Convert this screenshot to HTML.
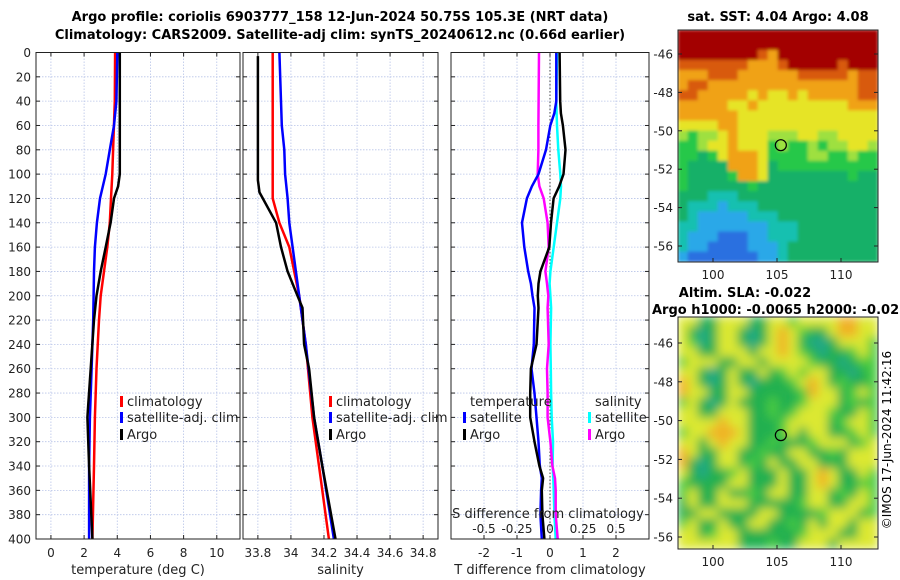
<!DOCTYPE html>
<html><head><meta charset="utf-8"><style>
html,body{margin:0;padding:0;background:#fff;}
svg{display:block;font-family:"DejaVu Sans","Liberation Sans",sans-serif;}
</style></head><body>
<svg id="c" width="900" height="580" xmlns="http://www.w3.org/2000/svg">
<defs>
<filter id="blur" x="0" y="0" width="100%" height="100%"><feGaussianBlur stdDeviation="5"/></filter>
<filter id="blur2" x="0" y="0" width="100%" height="100%"><feGaussianBlur stdDeviation="1.5"/></filter>
<clipPath id="clipTop"><rect x="678" y="30" width="200" height="232"/></clipPath>
<clipPath id="clipBot"><rect x="678" y="317" width="200" height="232"/></clipPath>
</defs>
<text x="340" y="21" text-anchor="middle" font-weight="bold" font-size="13">Argo profile: coriolis 6903777_158 12-Jun-2024 50.75S 105.3E (NRT data)</text>
<text x="340" y="39" text-anchor="middle" font-weight="bold" font-size="13">Climatology: CARS2009. Satellite-adj clim: synTS_20240612.nc (0.66d earlier)</text>
<text x="778" y="21" text-anchor="middle" font-weight="bold" font-size="13">sat. SST: 4.04 Argo: 4.08</text>
<text x="745" y="297" text-anchor="middle" font-weight="bold" font-size="13">Altim. SLA: -0.022</text>
<text x="652" y="314" font-weight="bold" font-size="13">Argo h1000: -0.0065 h2000: -0.02</text>
<text transform="translate(891,440) rotate(-90)" text-anchor="middle" font-size="12">©IMOS 17-Jun-2024 11:42:16</text>
<g id="g"></g>
</svg>
<script>
// ---- data ----
const depthTicks=[0,20,40,60,80,100,120,140,160,180,200,220,240,260,280,300,320,340,360,380,400];
const tTicks=[0,2,4,6,8,10];
const sTicks=[33.8,34,34.2,34.4,34.6,34.8];
const dTTicks=[-2,-1,0,1,2];
const dSTicks=[-0.5,-0.25,0,0.25,0.5];
const dSTickLabels=["-0.5","-0.25","0","0.25","0.5"];

const climDepth=[0,40,80,100,120,140,160,180,200,220,260,300,340,400];
const climTemp=[3.87,3.85,3.75,3.7,3.62,3.55,3.4,3.2,3.0,2.9,2.75,2.65,2.6,2.5];
const satDepth=[0,40,60,80,100,120,140,160,180,220,260,300,340,400];
const satTemp=[4.0,3.95,3.8,3.55,3.3,2.96,2.77,2.65,2.6,2.55,2.45,2.35,2.3,2.3];
const argoDepth=[0,60,100,110,120,140,160,180,200,220,260,290,300,340,400];
const argoTemp=[4.15,4.15,4.15,4.05,3.8,3.6,3.3,3.0,2.75,2.6,2.4,2.25,2.2,2.3,2.5];

const climSalDepth=[0,110,120,140,160,180,200,240,300,340,400];
const climSal=[33.89,33.89,33.89,33.93,33.99,34.02,34.05,34.09,34.13,34.17,34.23];
const satSalDepth=[0,40,60,80,100,120,140,160,180,200,240,300,340,400];
const satSal=[33.93,33.94,33.945,33.96,33.965,33.98,33.99,34.01,34.03,34.05,34.09,34.14,34.19,34.26];
const argoSalDepth=[3,105,115,120,140,160,180,200,210,240,260,300,340,400];
const argoSal=[33.80,33.80,33.81,33.83,33.91,33.94,33.98,34.04,34.07,34.08,34.11,34.14,34.19,34.27];

const dDepth=[0,40,50,60,80,100,110,120,140,160,180,190,200,210,240,260,280,300,320,340,350,360,380,400];
const dTSat=[0.19,0.19,0.13,0.01,-0.12,-0.35,-0.55,-0.7,-0.85,-0.78,-0.66,-0.58,-0.53,-0.47,-0.49,-0.56,-0.47,-0.41,-0.35,-0.31,-0.25,-0.27,-0.29,-0.25];
const dTArgo=[0.29,0.31,0.33,0.39,0.47,0.41,0.28,0.11,0.03,-0.02,-0.29,-0.35,-0.37,-0.35,-0.41,-0.58,-0.6,-0.6,-0.47,-0.32,-0.21,-0.25,-0.23,-0.17];
const dSSat=[0.053,0.048,0.05,0.053,0.063,0.078,0.083,0.078,0.053,0.028,0.003,-0.003,0.003,0.008,0.003,0.006,0.008,0.013,0.023,0.02,0.025,0.028,0.033,0.043];
const dSArgo=[-0.083,-0.086,-0.087,-0.088,-0.088,-0.093,-0.08,-0.048,-0.018,-0.01,-0.035,-0.023,-0.013,-0.018,-0.01,-0.023,-0.018,-0.018,0.003,0.018,0.038,0.043,0.043,0.058];

const latTicks=[-46,-48,-50,-52,-54,-56];
const lonTicks=[100,105,110];
const argoLon=105.3, argoLat=-50.75;
const sstGrid=[
"RRRRRRRRRRRRRRRRRRRR","RRRRRRRRRRRRRRRRRRRR","RRRRRRRRroRRRRRRRRRR","rrrrrrrooorRRRRRrRRR",
"ooorrroooooorrrrrorr","orrooooooooooooooorr","rroooooyoyyoyooooorr","oooooyyoyyyyyyyyyooo",
"ooooooyyyyyyyyyyyyyy","yyyyooyyyyyyyyyyyyyy","lgllyoyyylllyyllyyyy","gglyyoyyyglgglgllyyl",
"ggGgyoooyggggllgglgg","gGGGGoooyGgggggggggg","gGGGGgooyGGGGGGGGgGG","gGGGGGGgGGGGGGGGGGGG",
"GGGcccGGGGGGGGGGGGGG","GcccbcccGGGGGGGGGGGG","GcbbbbbcccGGGGGGGGGG","ccbbbbbbbcccGGGGGGGG",
"cbbbBBBbbcccGGGGGGGG","cbbBBBBbbbcGGGGGGGGG","bBBBBBBBbbcGGGGGGGGG"];
const slaGrid=[
"yyGGyyyGGyygyyyyooyy","yGcGyyGcGyoygGGyooyy","ygcGyyGcGyoyGccGyyyg","yyGGyyyGyyoygGcGGgyg",
"gyyyGGyyGyyyygGGcGgg","yyGcGyGGyGgygyyGGcGg","oyGcGyGcGGGgyoyGgGGg","oyyGGyyGGGGGgoyyGgyg",
"gyGcGyGGGgGGgyyyGgGg","yyGGyyyGGgGgyyygGGyg","yyyyoyyGGGgyyyyGgyyg","gyyoooyGGGgyGyyGGgyg",
"yyGyoyyGGgGGGgyyyGgy","oyGGyyGGgGGyyGGgGyyy","oGcGyyGgGyGGyyGGGyyy","yGcGGgyGGGyGGyoyGGyg",
"gGGGGyyGGGyGGyoyGGgg","gyGGyGGgGyyGGyyGgGyg","GyGGyyyGGGGGgyyGGyyg","GGyyGGGGyyGGGGgyyyGg",
"gyGGyGGyyGGgGyGyyGyy","yyGgyyGGGGGGgyyyGGyy","yyyyyyGGGgGGyyyGyyyy"];
const sstColors={R:"#a30000",r:"#d85a10",o:"#f0a218",y:"#e6e428",l:"#9ee040",g:"#28c848",G:"#14b068",c:"#14c0b0",b:"#2aa8e8",B:"#2a70e0"};
const slaColors={y:"#dce830",o:"#f0b028",g:"#48cc40",G:"#22b050",c:"#20a888"};

// ---- helpers ----
const NS="http://www.w3.org/2000/svg";
const root=document.getElementById('g');
function mk(tag,attrs,parent){const e=document.createElementNS(NS,tag);for(const k in attrs)e.setAttribute(k,attrs[k]);(parent||root).appendChild(e);return e;}
const yTop=52.5,yBot=539;
function yD(d){return yTop+(yBot-yTop)*d/400;}

const panels=[
 {x0:36,x1:240,min:-0.9,max:11.4,ticks:tTicks,labels:tTicks.map(String),xlabel:"temperature (deg C)",name:"temperature-panel"},
 {x0:243,x1:438,min:33.71,max:34.89,ticks:sTicks,labels:sTicks.map(v=>String(v)),xlabel:"salinity",name:"salinity-panel"},
 {x0:451,x1:649,min:-3,max:3,ticks:dTTicks,labels:dTTicks.map(String),xlabel:"T difference from climatology",name:"difference-panel"}
];
panels.forEach(p=>{p.fx=v=>p.x0+(v-p.min)/(p.max-p.min)*(p.x1-p.x0);});

panels.forEach((p,i)=>{
 const g=mk('g',{});
 
 
 mk('rect',{x:p.x0,y:yTop,width:p.x1-p.x0,height:yBot-yTop,fill:'#fff'},g);
 depthTicks.forEach(d=>{
  const l=mk('line',{x1:p.x0,x2:p.x1,y1:yD(d),y2:yD(d),stroke:'#b8c4e8','stroke-width':0.8,'stroke-dasharray':'1.5,1.5'},g);
  
  
  mk('line',{x1:p.x0,x2:p.x0+4,y1:yD(d),y2:yD(d),stroke:'#222'},g);
  mk('line',{x1:p.x1-4,x2:p.x1,y1:yD(d),y2:yD(d),stroke:'#222'},g);
 });
 p.ticks.forEach((v,j)=>{
  const x=p.fx(v);
  const l=mk('line',{x1:x,x2:x,y1:yTop,y2:yBot,stroke:'#b8c4e8','stroke-width':0.8,'stroke-dasharray':'1.5,1.5'},g);
  
  
  mk('line',{x1:x,x2:x,y1:yBot-4,y2:yBot,stroke:'#222'},g);
  mk('line',{x1:x,x2:x,y1:yTop,y2:yTop+4,stroke:'#222'},g);
  const t=mk('text',{x:x,y:557,'text-anchor':'middle','font-size':12,fill:'#222'},g);
  t.textContent=p.labels[j];
  
  
 });
 const xl=mk('text',{x:(p.x0+p.x1)/2,y:574,'text-anchor':'middle','font-size':13,fill:'#222'},g);
 xl.textContent=p.xlabel;
 
 
});
depthTicks.forEach(d=>{
 const t=mk('text',{x:31,y:yD(d)+4.5,'text-anchor':'end','font-size':12,fill:'#222'});
 t.textContent=String(d);
 
 
});
const p3=panels[2];
const zl=mk('line',{x1:p3.fx(0),x2:p3.fx(0),y1:yTop,y2:yBot,stroke:'#444','stroke-dasharray':'1.5,2'});



function line(p,xs,ds,color,name,scale){
 const pts=xs.map((v,i)=>p.fx(v*(scale||1)).toFixed(1)+','+yD(ds[i]).toFixed(1)).join(' ');
 const e=mk('polyline',{points:pts,fill:'none',stroke:color,'stroke-width':2.5,'stroke-linejoin':'round'});
 
 
}
line(panels[0],climTemp,climDepth,'#f00','climatology-temp-line');
line(panels[0],satTemp,satDepth,'#00f','satellite-temp-line');
line(panels[0],argoTemp,argoDepth,'#000','argo-temp-line');
line(panels[1],climSal,climSalDepth,'#f00','climatology-sal-line');
line(panels[1],satSal,satSalDepth,'#00f','satellite-sal-line');
line(panels[1],argoSal,argoSalDepth,'#000','argo-sal-line');
line(p3,dSSat,dDepth,'#0ff','satellite-dS-line',4);
line(p3,dSArgo,dDepth,'#f0f','argo-dS-line',4);
line(p3,dTSat,dDepth,'#00f','satellite-dT-line');
line(p3,dTArgo,dDepth,'#000','argo-dT-line');

panels.forEach(p=>{mk('rect',{x:p.x0,y:yTop,width:p.x1-p.x0,height:yBot-yTop,fill:'none',stroke:'#222','stroke-width':1});});

const sl=mk('text',{x:p3.fx(0)-2,y:518,'text-anchor':'middle','font-size':13,fill:'#222'});
sl.textContent='S difference from climatology';


dSTicks.forEach((v,j)=>{
 const t=mk('text',{x:p3.fx(v*4),y:533,'text-anchor':'middle','font-size':12,fill:'#222'});
 t.textContent=dSTickLabels[j];
 
 
});

function legend(x,y,color,label){
 const g=mk('g',{});
 
 
 mk('rect',{x:x,y:y-10,width:3,height:11,fill:color},g);
 const t=mk('text',{x:x+7,y:y,'font-size':13,fill:'#222'},g);
 t.textContent=label;
}
legend(120,406,'#f00','climatology');legend(120,422,'#00f','satellite-adj. clim');legend(120,439,'#000','Argo');
legend(329,406,'#f00','climatology');legend(329,422,'#00f','satellite-adj. clim');legend(329,439,'#000','Argo');
const lt=mk('text',{x:470,y:406,'font-size':13,fill:'#222'});lt.textContent='temperature';

const ls=mk('text',{x:595,y:406,'font-size':13,fill:'#222'});ls.textContent='salinity';

legend(463,422,'#00f','satellite');legend(463,439,'#000','Argo');
legend(588,422,'#0ff','satellite');legend(588,439,'#f0f','Argo');

function map(y0,grid,colors,filt,clip,name,latTop,latPx){
 const mx0=678,mw=200,mh=232;
 const g=mk('g',{'clip-path':'url(#'+clip+')'});
 
 
 const inner=mk('g',{filter:'url(#'+filt+')'},g);
 const cw=mw/grid[0].length,ch=mh/grid.length;
 grid.forEach((row,r)=>{[...row].forEach((c,k)=>{
  const cell=mk('rect',{x:mx0+k*cw-0.3,y:y0+r*ch-0.3,width:cw+0.6,height:ch+0.6,fill:colors[c]},inner);
  
  
 });});
 mk('rect',{x:mx0,y:y0,width:mw,height:mh,fill:'none',stroke:'#222'});
 const fx=lon=>713+(lon-100)*12.8;
 const fy=lat=>latTop+(-46-lat)*latPx;
 lonTicks.forEach(v=>{
  mk('line',{x1:fx(v),x2:fx(v),y1:y0+mh-4,y2:y0+mh,stroke:'#222'});
  const t=mk('text',{x:fx(v),y:y0+mh+17,'text-anchor':'middle','font-size':12,fill:'#222'});
  t.textContent=String(v);
  
  
 });
 latTicks.forEach(v=>{
  mk('line',{x1:mx0,x2:mx0+4,y1:fy(v),y2:fy(v),stroke:'#222'});
  mk('line',{x1:mx0+mw-4,x2:mx0+mw,y1:fy(v),y2:fy(v),stroke:'#222'});
  const t=mk('text',{x:673,y:fy(v)+4.5,'text-anchor':'end','font-size':12,fill:'#222'});
  t.textContent=String(v);
  
  
 });
 const c=mk('circle',{cx:fx(argoLon),cy:fy(argoLat),r:5.5,fill:'none',stroke:'#000','stroke-width':1.2});
 
 
}
map(30,sstGrid,sstColors,'blur2','clipTop','sst-map',54,19.2);
map(317,slaGrid,slaColors,'blur','clipBot','sla-map',343,19.4);
</script>
</body></html>
